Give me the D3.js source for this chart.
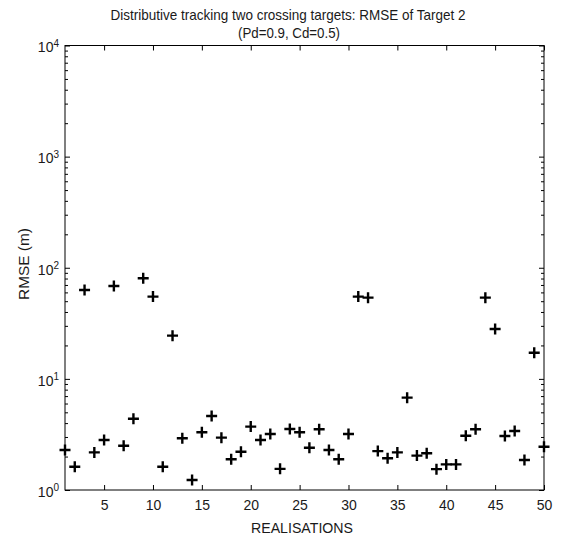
<!DOCTYPE html>
<html>
<head>
<meta charset="utf-8">
<script src="https://cdn.jsdelivr.net/npm/d3@7"></script>
<style>
  html, body { margin: 0; padding: 0; background: #fff; overflow: hidden; }
  svg { display: block; }
  text { font-family: "Liberation Sans", Arial, sans-serif; fill: #1a1a1a; }
</style>
</head>
<body>
<div id="chart"></div>
<script>
let width = 563;
let height = 546;
let margin = { top: 45.5, right: 19, bottom: 56, left: 65 };
let innerWidth = width - margin.left - margin.right;
let innerHeight = height - margin.top - margin.bottom;

// Data
const realisations = d3.range(1, 51);
const rmse = [
    2.29, 1.62, 63, 2.18, 2.82, 68.6, 2.5, 4.38, 80.4, 55,
    1.62, 24.5, 2.92, 1.23, 3.31, 4.63, 2.96, 1.89, 2.21, 3.72,
    2.82, 3.19, 1.55, 3.54, 3.31, 2.4, 3.52, 2.29, 1.89, 3.19,
    55, 53.8, 2.24, 1.93, 2.18, 6.78, 2.04, 2.14, 1.54, 1.70,
    1.70, 3.08, 3.52, 53.8, 28.1, 3.06, 3.40, 1.86, 17.2, 2.45
];
const xTicks = [5, 10, 15, 20, 25, 30, 35, 40, 45, 50];
const yExponents = [0, 1, 2, 3, 4];

const svg = d3.select("#chart")
    .append("svg")
    .attr("width", width)
    .attr("height", height);

// Text squeezed to a given length (the MATLAB font is narrower than Liberation Sans)
function fitText(parent, cx, y, len, str) {
    const t = parent.append("text")
        .attr("text-anchor", "middle")
        .attr("font-size", 15);
    t.append("tspan")
        .attr("x", cx)
        .attr("y", y)
        .attr("textLength", len)
        .attr("lengthAdjust", "spacingAndGlyphs")
        .text(str);
    return t;
}

// Title
fitText(svg, 288, 20, 355, "Distributive tracking two crossing targets: RMSE of Target 2");
fitText(svg, 289, 37.5, 102, "(Pd=0.9, Cd=0.5)");

const g = svg.append("g")
    .attr("transform", `translate(${margin.left},${margin.top})`);

const x = d3.scaleLinear()
    .domain([1, 50])
    .range([0, innerWidth]);

const y = d3.scaleLog()
    .domain([1, 10000])
    .range([innerHeight, 0]);

const majors = yExponents.map(e => Math.pow(10, e));
const minors = [];
yExponents.slice(0, -1).forEach(e => {
    for (let k = 2; k <= 9; k++) minors.push(k * Math.pow(10, e));
});

function styleAxis(sel) {
    sel.select(".domain").remove();
    sel.selectAll("line").attr("stroke", "#000").attr("stroke-width", 1);
}
function noLabels(sel) {
    sel.selectAll(".tick text").remove();
}

// Bottom axis
g.append("g")
    .attr("transform", `translate(0,${innerHeight})`)
    .attr("font-size", 14)
    .call(d3.axisBottom(x).tickValues(xTicks).tickSize(-5).tickPadding(10).tickFormat(""))
    .call(styleAxis)
    .attr("font-size", 14)
    .selectAll(".tick text")
    .attr("fill", "#1a1a1a")
    .append("tspan")
    .text(d => d);

// Top axis
g.append("g")
    .call(d3.axisTop(x).tickValues(xTicks).tickSize(-5))
    .call(styleAxis)
    .call(noLabels);

// Left axis, majors with 10^n labels
g.append("g")
    .call(d3.axisLeft(y).tickValues(majors).tickSize(-5).tickPadding(6).tickFormat(""))
    .call(styleAxis)
    .attr("font-size", 14)
    .selectAll(".tick text")
    .attr("fill", "#1a1a1a")
    .attr("dy", "0.45em")
    .each(function (d) {
        const t = d3.select(this);
        t.append("tspan").text("10");
        t.append("tspan")
            .attr("dy", "-0.55em")
            .attr("font-size", 10)
            .text(Math.round(Math.log10(d)));
    });

g.append("g")
    .call(d3.axisLeft(y).tickValues(minors).tickSize(-3))
    .call(styleAxis)
    .call(noLabels);

// Right axis
g.append("g")
    .attr("transform", `translate(${innerWidth},0)`)
    .call(d3.axisRight(y).tickValues(majors).tickSize(-5))
    .call(styleAxis)
    .call(noLabels);
g.append("g")
    .attr("transform", `translate(${innerWidth},0)`)
    .call(d3.axisRight(y).tickValues(minors).tickSize(-3))
    .call(styleAxis)
    .call(noLabels);

// Box
g.append("rect")
    .attr("width", innerWidth)
    .attr("height", innerHeight)
    .attr("fill", "none")
    .attr("stroke", "#000")
    .attr("stroke-width", 1);

// Axis labels
fitText(svg, 302, 533, 102, "REALISATIONS");

const yLabel = svg.append("g")
    .attr("transform", "translate(29,264) rotate(-90)");
fitText(yLabel, 0, 0, 72, "RMSE (m)");

// Plus markers
const s = 5.5;
g.selectAll(".pt")
    .data(realisations.map((r, i) => ({ r, v: rmse[i] })))
    .enter()
    .append("path")
    .attr("class", "pt")
    .attr("transform", d => `translate(${x(d.r)},${y(d.v)})`)
    .attr("d", `M${-s},0H${s}M0,${-s}V${s}`)
    .attr("stroke", "#000")
    .attr("stroke-width", 2.4)
    .attr("fill", "none");
</script>
</body>
</html>
